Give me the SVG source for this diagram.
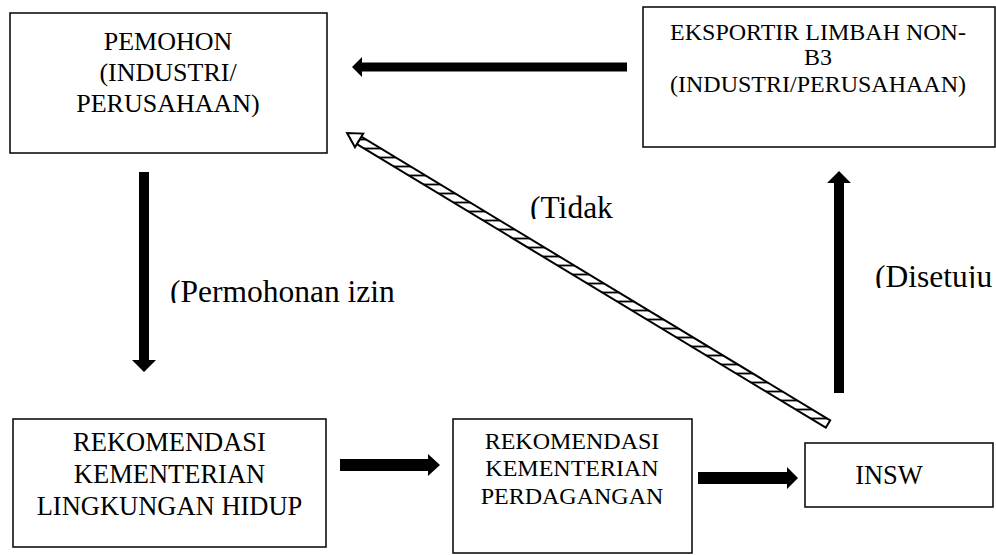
<svg xmlns="http://www.w3.org/2000/svg" width="996" height="555" viewBox="0 0 996 555">
<style>
.box{fill:#fff;stroke:#000;stroke-width:1.5}
.t{fill:#000;text-anchor:middle}
.lbl{fill:#000;font-size:31.5px}
.solid{fill:#000}
</style>
<defs>
<pattern id="hatch" patternUnits="userSpaceOnUse" x="0" y="0" width="10" height="9">
<rect width="10" height="9" fill="#fff"/>
<line x1="0" y1="4.5" x2="10" y2="4.5" stroke="#000" stroke-width="1.8"/>
</pattern>
<clipPath id="c1"><rect x="160" y="260" width="260" height="43"/></clipPath>
<clipPath id="c2"><rect x="520" y="180" width="120" height="39"/></clipPath>
<clipPath id="c3"><rect x="865" y="250" width="131" height="38"/></clipPath>
</defs>

<g font-family="Liberation Serif, DejaVu Serif, Times New Roman, serif">
<g id="pemohon">
<rect class="box" x="10" y="13" width="317" height="140"/>
<text class="t" font-size="26" x="168" y="50">PEMOHON</text>
<text class="t" font-size="26" x="168" y="81">(INDUSTRI/</text>
<text class="t" font-size="26" x="168" y="112">PERUSAHAAN)</text>
</g>

<g id="eksportir">
<rect class="box" x="643" y="7" width="352" height="140"/>
<text class="t" font-size="24" x="818" y="40">EKSPORTIR LIMBAH NON-</text>
<text class="t" font-size="24" x="818" y="65">B3</text>
<text class="t" font-size="24" x="818" y="92">(INDUSTRI/PERUSAHAAN)</text>
</g>

<g id="klh">
<rect class="box" x="13" y="419" width="313" height="128"/>
<text class="t" font-size="26.5" x="169.5" y="451">REKOMENDASI</text>
<text class="t" font-size="26.5" x="169.5" y="483">KEMENTERIAN</text>
<text class="t" font-size="26.5" x="169.5" y="515">LINGKUNGAN HIDUP</text>
</g>

<g id="kp">
<rect class="box" x="453" y="419" width="239" height="134"/>
<text class="t" font-size="24" x="572" y="449">REKOMENDASI</text>
<text class="t" font-size="24" x="572" y="476">KEMENTERIAN</text>
<text class="t" font-size="24" x="572" y="504">PERDAGANGAN</text>
</g>

<g id="insw">
<rect class="box" x="805" y="443" width="188" height="64"/>
<text class="t" font-size="26.5" x="889" y="484">INSW</text>
</g>

<g id="connectors">
<polygon class="solid" points="627,62.5 362,62.5 362,57 352,67 362,77 362,71.5 627,71.5"/>
<polygon class="solid" points="139,172 149,172 149,360 156,360 144,372 132,360 139,360"/>
<polygon class="solid" points="834,393 844,393 844,183 851,183 839,171 827,183 834,183"/>
<polygon class="solid" points="340,459 428,459 428,454 440,465 428,476 428,471 340,471"/>
<polygon class="solid" points="698,472 787,472 787,467 798,478 787,489 787,484 698,484"/>
<polygon points="830.2,420.3 361.3,136.7 356.9,144.1 825.8,427.7" fill="url(#hatch)" stroke="#000" stroke-width="2" stroke-linejoin="miter"/>
<polygon points="361.3,136.7 363.2,133.6 347.1,133.1 355,147.2 356.9,144.1" fill="#fff" stroke="#000" stroke-width="2" stroke-linejoin="miter"/>
<text class="lbl" x="170" y="302" clip-path="url(#c1)">(Permohonan izin</text>
<text class="lbl" x="530" y="218" clip-path="url(#c2)">(Tidak</text>
<text class="lbl" x="875" y="287" clip-path="url(#c3)">(Disetuju</text>
</g>
</g>
</svg>
